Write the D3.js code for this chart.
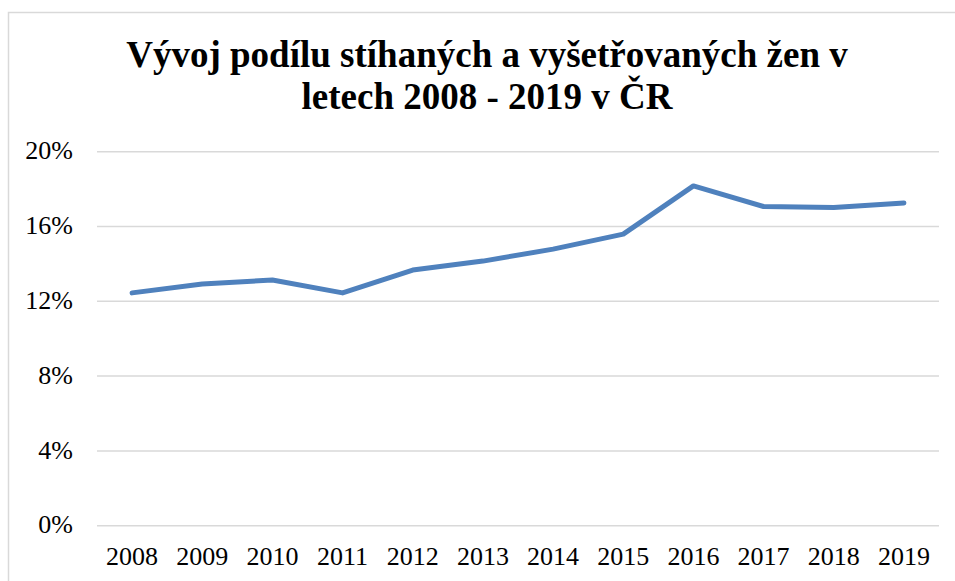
<!DOCTYPE html>
<html><head><meta charset="utf-8">
<script src="https://cdn.jsdelivr.net/npm/d3@7"></script>
<style>body{margin:0;background:#fff}svg{display:block}</style>
</head><body>
<script>
const years = ["2008","2009","2010","2011","2012","2013","2014","2015","2016","2017","2018","2019"];
const shares = [12.45,12.93,13.14,12.45,13.67,14.15,14.79,15.59,18.17,17.07,17.01,17.26];
const yTicks = [0,4,8,12,16,20];
const titleLines = ["Vývoj podílu stíhaných a vyšetřovaných žen v","letech 2008 - 2019 v ČR"];

const W=955,H=581;
const FONT="'Liberation Serif'";
const svg=d3.select("body").append("svg").attr("width",W).attr("height",H);

svg.append("rect").attr("x",8.5).attr("y",12.5).attr("width",W).attr("height",H)
  .attr("fill","#fff").attr("stroke","#d9d9d9").attr("stroke-width",1.5);

const t=svg.append("text").attr("text-anchor","middle").style("font-family",FONT)
  .style("font-weight","bold").style("font-size","37px").attr("fill","#000");
titleLines.forEach((l,i)=>t.append("tspan").attr("x",487).attr("y",67+i*42).text(l));

const x=d3.scaleBand().domain(years).range([97,939]);
const y=d3.scaleLinear().domain([0,20]).range([525.7,151.7]);

const g=svg.append("g");
g.selectAll("line.grid").data(yTicks).enter().append("line")
  .attr("x1",97).attr("x2",939).attr("y1",d=>y(d)).attr("y2",d=>y(d))
  .attr("stroke","#d9d9d9").attr("stroke-width",1.5);

g.selectAll("text.yl").data(yTicks).enter().append("text")
  .attr("x",73).attr("y",d=>y(d)+7.6).attr("text-anchor","end")
  .style("font-family",FONT).style("font-size","26px").attr("fill","#000")
  .text(d=>d+"%");

g.selectAll("text.xl").data(years).enter().append("text")
  .attr("x",d=>x(d)+x.bandwidth()/2).attr("y",565).attr("text-anchor","middle")
  .style("font-family",FONT).style("font-size","26px").attr("fill","#000")
  .text(d=>d);

const line=d3.line().x((d,i)=>x(years[i])+x.bandwidth()/2).y(d=>y(d));
svg.append("path").datum(shares).attr("d",line).attr("fill","none")
  .attr("stroke","#4f81bd").attr("stroke-width",5).attr("stroke-linecap","round").attr("stroke-linejoin","round");
</script>
</body></html>
